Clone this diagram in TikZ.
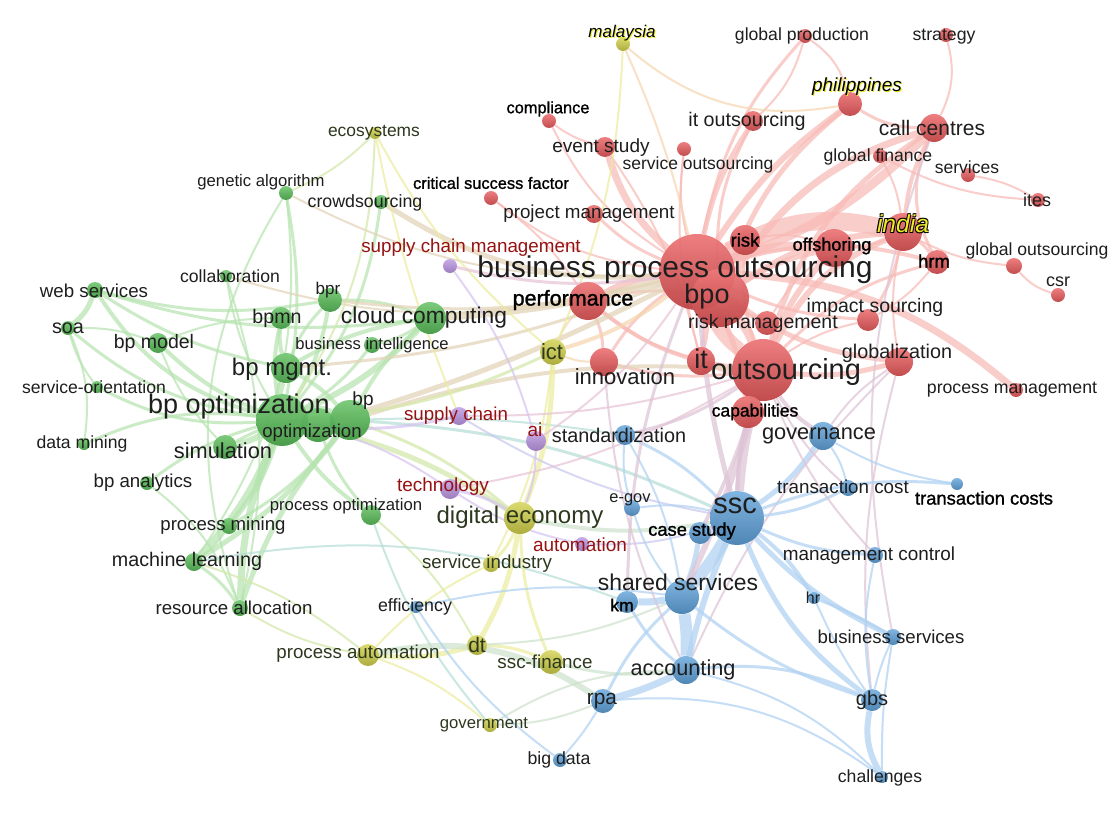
\documentclass[tikz,border=0pt]{standalone}
\usepackage{fontspec}
\setmainfont{Liberation Sans}
\newfontfamily\medfont[FakeBold=1.2]{Liberation Sans}
\pgfdeclarelayer{bg}
\pgfsetlayers{bg,main}
\definecolor{cR}{RGB}{232,82,84}
\definecolor{cG}{RGB}{80,186,80}
\definecolor{cB}{RGB}{86,156,216}
\definecolor{cY}{RGB}{206,206,64}
\definecolor{cP}{RGB}{184,144,226}
\definecolor{eR}{RGB}{248,186,182}
\definecolor{eG}{RGB}{182,228,176}
\definecolor{eB}{RGB}{176,210,242}
\definecolor{eY}{RGB}{236,236,160}
\definecolor{eP}{RGB}{214,196,240}
\definecolor{eRG}{RGB}{226,212,182}
\definecolor{eRB}{RGB}{222,196,214}
\definecolor{eGY}{RGB}{212,232,170}
\definecolor{eBY}{RGB}{206,226,204}
\definecolor{eRY}{RGB}{246,214,176}
\definecolor{eGB}{RGB}{182,222,214}
\definecolor{ePB}{RGB}{202,202,240}
\definecolor{eRP}{RGB}{232,196,214}
\definecolor{lab}{RGB}{30,30,30}
\definecolor{labP}{RGB}{150,18,18}
\definecolor{labY}{RGB}{44,56,30}
\definecolor{yl}{RGB}{235,235,40}
\newcommand\fs[1]{\fontsize{\fpeval{#1*0.75}}{\fpeval{#1*0.9}}\selectfont}
\newcommand\ed[5]{\draw[#1,line width=#2*0.75pt,draw opacity=0.72] (#3) to[bend left=#5] (#4);}
\begin{document}
\begin{tikzpicture}[x=0.75pt,y=-0.75pt,
  nd/.style={circle,inner sep=0pt,minimum size=#1*1.5pt,fill opacity=0.95},
  nR/.style={nd=#1,top color=cR!78!white,bottom color=cR!82!black},
  nG/.style={nd=#1,top color=cG!78!white,bottom color=cG!82!black},
  nB/.style={nd=#1,top color=cB!78!white,bottom color=cB!82!black},
  nY/.style={nd=#1,top color=cY!78!white,bottom color=cY!82!black},
  nP/.style={nd=#1,top color=cP!78!white,bottom color=cP!82!black},
  L/.style={inner sep=0pt,text=lab,font=\fs{#1}},
  LM/.style={inner sep=0pt,text=black,font=\medfont\fs{#1}},
  LP/.style={inner sep=0pt,text=labP,font=\fs{#1}},
  LY/.style={inner sep=0pt,text=labY,font=\fs{#1}},
  LI/.style={inner sep=0pt,font=\fs{#1}\itshape}]
\useasboundingbox (0,0) rectangle (1116,820);
\begin{pgfonlayer}{bg}
\fill[white] (0,0) rectangle (1116,820);
\end{pgfonlayer}
% ---------- red cluster
\node[nR=38] (bpoo) at (697,272) {};
\node[nR=29] (bpo) at (720,298) {};
\node[nR=31] (outs) at (763,370) {};
\node[nR=14] (itn) at (701,361) {};
\node[nR=19] (perf) at (588,301) {};
\node[nR=14] (innov) at (604,362) {};
\node[nR=12] (riskm) at (767,323) {};
\node[nR=15] (risk) at (745,240) {};
\node[nR=19] (offsh) at (834,248) {};
\node[nR=19] (india) at (903,232) {};
\node[nR=12] (hrm) at (937,262) {};
\node[nR=11] (impact) at (868,320) {};
\node[nR=14] (glob) at (899,362) {};
\node[nR=7] (procm) at (1016,390) {};
\node[nR=16] (capab) at (748,412) {};
\node[nR=8] (globout) at (1014,266) {};
\node[nR=7] (csr) at (1058,295) {};
\node[nR=7] (ites) at (1038,200) {};
\node[nR=7] (services) at (968,175) {};
\node[nR=7] (globfin) at (880,156) {};
\node[nR=14] (callc) at (934,128) {};
\node[nR=12] (phil) at (850,104) {};
\node[nR=7] (strat) at (946,35) {};
\node[nR=7] (globprod) at (805,36) {};
\node[nR=10] (itout) at (753,121) {};
\node[nR=10] (event) at (605,147) {};
\node[nR=7] (servout) at (684,149) {};
\node[nR=7] (compl) at (549,121) {};
\node[nR=7] (csf) at (491,198) {};
\node[nR=9] (projm) at (594,214) {};
% ---------- green cluster
\node[nG=17] (optim) at (318,425) {};
\node[nG=26] (bpopt) at (282,420) {};
\node[nG=20] (bp) at (350,420) {};
\node[nG=12] (simul) at (225,447) {};
\node[nG=15] (bpmgmt) at (286,368) {};
\node[nG=11] (bpmn) at (281,318) {};
\node[nG=12] (bpr) at (330,300) {};
\node[nG=16] (cloud) at (430,318) {};
\node[nG=8] (busint) at (372,345) {};
\node[nG=6] (collab) at (226,276) {};
\node[nG=7] (genalg) at (286,193) {};
\node[nG=7] (crowd) at (381,202) {};
\node[nG=8] (websvc) at (95,290) {};
\node[nG=7] (soa) at (68,328) {};
\node[nG=10] (bpmodel) at (158,343) {};
\node[nG=6] (svcor) at (97,387) {};
\node[nG=6] (datamin) at (84,444) {};
\node[nG=7] (bpanal) at (147,483) {};
\node[nG=8] (procmin) at (229,526) {};
\node[nG=9] (ml) at (194,562) {};
\node[nG=8] (resalloc) at (240,608) {};
\node[nG=10] (procopt) at (371,515) {};
% ---------- yellow cluster
\node[nY=6] (eco) at (375,133) {};
\node[nY=7] (malay) at (623,44) {};
\node[nY=13] (ict) at (553,352) {};
\node[nY=16] (digecon) at (520,518) {};
\node[nY=8] (svcind) at (491,564) {};
\node[nY=10] (dt) at (477,645) {};
\node[nY=11] (procaut) at (368,655) {};
\node[nY=12] (sscfin) at (551,662) {};
\node[nY=7] (gov) at (490,725) {};
% ---------- purple cluster
\node[nP=7] (scm) at (450,266) {};
\node[nP=9] (sc) at (459,416) {};
\node[nP=10] (ai) at (536,441) {};
\node[nP=10] (tech) at (450,489) {};
\node[nP=7] (autom) at (582,544) {};
% ---------- blue cluster
\node[nB=27] (ssc) at (737,518) {};
\node[nB=11] (casest) at (700,533) {};
\node[nB=17] (shsvc) at (682,597) {};
\node[nB=11] (km) at (627,602) {};
\node[nB=14] (acct) at (686,670) {};
\node[nB=12] (rpa) at (603,701) {};
\node[nB=7] (bigdata) at (560,760) {};
\node[nB=6] (effic) at (416,607) {};
\node[nB=10] (stand) at (625,435) {};
\node[nB=14] (govn) at (823,436) {};
\node[nB=8] (egov) at (632,508) {};
\node[nB=8] (tcost) at (848,488) {};
\node[nB=6] (tcosts) at (957,484) {};
\node[nB=8] (mctrl) at (875,555) {};
\node[nB=6] (hr) at (814,598) {};
\node[nB=8] (bsvc) at (893,637) {};
\node[nB=11] (gbs) at (872,700) {};
\node[nB=6] (chal) at (882,777) {};
% ---------- connectors
\begin{pgfonlayer}{bg}
% red
\ed{eR}{18}{bpoo}{india}{22}
\ed{eR}{12}{bpoo}{bpo}{10}
\ed{eR}{14}{bpoo}{outs}{-15}
\ed{eR}{9}{bpo}{outs}{10}
\ed{eR}{9}{bpoo}{offsh}{12}
\ed{eR}{9}{bpoo}{callc}{-12}
\ed{eR}{6}{bpoo}{phil}{10}
\ed{eR}{5}{bpoo}{itout}{10}
\ed{eR}{6}{bpoo}{risk}{10}
\ed{eR}{7}{bpoo}{perf}{-10}
\ed{eR}{7}{bpoo}{event}{15}
\ed{eR}{3}{bpoo}{projm}{10}
\ed{eR}{3}{bpoo}{globprod}{15}
\ed{eR}{4}{bpoo}{hrm}{15}
\ed{eR}{3}{bpoo}{impact}{-10}
\ed{eR}{5}{bpoo}{glob}{-15}
\ed{eR}{3}{bpoo}{innov}{-10}
\ed{eR}{6}{bpoo}{itn}{10}
\ed{eR}{4}{bpoo}{riskm}{-10}
\ed{eR}{5}{bpoo}{capab}{10}
\ed{eR}{2}{bpoo}{servout}{10}
\ed{eR}{2}{bpoo}{compl}{15}
\ed{eR}{2}{bpoo}{csf}{15}
\ed{eR}{7}{bpoo}{procm}{18}
\ed{eR}{6}{outs}{india}{20}
\ed{eR}{6}{outs}{offsh}{10}
\ed{eR}{5}{outs}{glob}{-10}
\ed{eR}{7}{outs}{capab}{10}
\ed{eR}{6}{outs}{itn}{10}
\ed{eR}{4}{outs}{perf}{15}
\ed{eR}{5}{outs}{callc}{20}
\ed{eR}{3}{outs}{innov}{10}
\ed{eR}{3}{outs}{hrm}{15}
\ed{eR}{3}{outs}{risk}{10}
\ed{eR}{2}{outs}{impact}{10}
\ed{eR}{6}{bpo}{india}{15}
\ed{eR}{7}{bpo}{callc}{20}
\ed{eR}{5}{bpo}{phil}{15}
\ed{eR}{5}{bpo}{offsh}{10}
\ed{eR}{3}{bpo}{itout}{15}
\ed{eR}{3}{bpo}{perf}{-10}
\ed{eR}{3}{india}{hrm}{10}
\ed{eR}{2}{india}{globout}{-10}
\ed{eR}{2}{globout}{csr}{-15}
\ed{eR}{4}{india}{callc}{10}
\ed{eR}{2}{services}{ites}{10}
\ed{eR}{2}{globfin}{ites}{-12}
\ed{eR}{2}{callc}{strat}{-20}
\ed{eR}{3}{phil}{callc}{-15}
\ed{eR}{2}{globfin}{india}{10}
\ed{eR}{2}{itout}{globprod}{-15}
\ed{eR}{2}{compl}{event}{-10}
\ed{eR}{2}{csf}{perf}{10}
\ed{eR}{2}{event}{itn}{10}
\ed{eR}{2}{glob}{india}{10}
\ed{eR}{2}{globprod}{phil}{20}
\ed{eR}{3}{perf}{innov}{10}
\ed{eR}{3}{perf}{itn}{-10}
\ed{eR}{2}{hrm}{impact}{10}
\ed{eR}{3}{offsh}{india}{-10}
\ed{eR}{2}{risk}{offsh}{15}
\ed{eR}{2}{riskm}{offsh}{10}
\ed{eR}{3}{india}{impact}{10}
\ed{eR}{3}{callc}{hrm}{-25}
\ed{eR}{2}{servout}{itn}{-10}
\ed{eRB}{2}{glob}{acct}{-10}
\ed{eRB}{2}{glob}{gbs}{-10}
\ed{eRB}{2}{callc}{bsvc}{-15}
\ed{eRY}{2}{malay}{bpoo}{5}
\ed{eRY}{2}{malay}{phil}{-25}
\ed{eRY}{4}{ict}{bpoo}{-10}
\ed{eRY}{2}{ict}{perf}{10}
\ed{eRY}{2}{ict}{innov}{-10}
% green
\ed{eG}{10}{bpopt}{optim}{0}
\ed{eG}{9}{optim}{bp}{0}
\ed{eG}{8}{bpopt}{bp}{20}
\ed{eG}{6}{bpopt}{simul}{10}
\ed{eG}{7}{bpopt}{bpmgmt}{10}
\ed{eG}{4}{bpopt}{bpmn}{10}
\ed{eG}{6}{bpopt}{cloud}{-10}
\ed{eG}{7}{bpopt}{ml}{10}
\ed{eG}{7}{bpopt}{resalloc}{-10}
\ed{eG}{5}{bpopt}{procmin}{10}
\ed{eG}{3}{bpopt}{bpanal}{-10}
\ed{eG}{3}{bpopt}{datamin}{-15}
\ed{eG}{4}{bpopt}{websvc}{20}
\ed{eG}{3}{bpopt}{soa}{15}
\ed{eG}{4}{bpopt}{bpmodel}{10}
\ed{eG}{3}{bpopt}{genalg}{-10}
\ed{eG}{2}{bpopt}{collab}{10}
\ed{eG}{3}{bpopt}{svcor}{15}
\ed{eG}{4}{bpopt}{procopt}{-10}
\ed{eG}{4}{bpopt}{bpr}{-10}
\ed{eG}{3}{bpopt}{busint}{-10}
\ed{eG}{3}{bpopt}{crowd}{-15}
\ed{eG}{5}{bp}{ml}{10}
\ed{eG}{5}{bp}{resalloc}{-10}
\ed{eG}{3}{bp}{procmin}{10}
\ed{eG}{4}{bp}{cloud}{10}
\ed{eG}{4}{bp}{bpmgmt}{-10}
\ed{eG}{3}{bp}{simul}{-15}
\ed{eG}{4}{bpmgmt}{bpmn}{10}
\ed{eG}{4}{bpmgmt}{cloud}{10}
\ed{eG}{3}{bpmgmt}{bpr}{10}
\ed{eG}{5}{websvc}{soa}{15}
\ed{eG}{3}{websvc}{cloud}{-12}
\ed{eG}{3}{websvc}{bpmgmt}{-10}
\ed{eG}{3}{websvc}{bpr}{-12}
\ed{eG}{2}{soa}{svcor}{-10}
\ed{eG}{2}{soa}{datamin}{15}
\ed{eG}{2}{soa}{bpmodel}{10}
\ed{eG}{2}{bpmodel}{bpmn}{10}
\ed{eG}{2}{bpmodel}{simul}{-10}
\ed{eG}{3}{cloud}{busint}{10}
\ed{eG}{3}{cloud}{bpr}{-10}
\ed{eG}{2}{genalg}{ml}{20}
\ed{eG}{2}{genalg}{resalloc}{-25}
\ed{eG}{2}{procmin}{ml}{10}
\ed{eG}{3}{ml}{resalloc}{10}
\ed{eG}{2}{collab}{resalloc}{15}
\ed{eG}{3}{procopt}{optim}{10}
\ed{eG}{2}{bpanal}{resalloc}{15}
\ed{eRG}{8}{cloud}{bpoo}{-5}
\ed{eRG}{5}{crowd}{bpoo}{-18}
\ed{eRG}{2}{genalg}{bpoo}{-15}
\ed{eRG}{3}{bpr}{bpoo}{-10}
\ed{eRG}{3}{bpmgmt}{bpoo}{-8}
\ed{eRG}{5}{optim}{bpoo}{-5}
\ed{eRG}{4}{bp}{outs}{10}
\ed{eRG}{2}{collab}{perf}{-12}
\ed{eGY}{5}{digecon}{bpopt}{-10}
\ed{eGY}{2}{procopt}{dt}{10}
\ed{eGY}{2}{resalloc}{procaut}{-10}
\ed{eGY}{2}{procaut}{ml}{-10}
\ed{eGY}{3}{bp}{digecon}{10}
\ed{eGY}{3}{ict}{bpopt}{10}
\ed{eGY}{2}{eco}{bpopt}{15}
\ed{eGY}{2}{eco}{genalg}{10}
\ed{eGB}{2}{ml}{km}{15}
\ed{eGB}{3}{bp}{ssc}{10}
\ed{eGB}{2}{bp}{stand}{5}
\ed{eGB}{2}{procopt}{gov}{-10}
% yellow
\ed{eY}{2}{eco}{sc}{-5}
\ed{eY}{2}{eco}{ict}{-10}
\ed{eY}{5}{digecon}{dt}{10}
\ed{eY}{3}{digecon}{sscfin}{-10}
\ed{eY}{5}{digecon}{ict}{-10}
\ed{eY}{3}{digecon}{svcind}{10}
\ed{eY}{5}{dt}{procaut}{10}
\ed{eY}{2}{procaut}{gov}{10}
\ed{eY}{3}{dt}{sscfin}{10}
\ed{eY}{2}{ict}{svcind}{10}
\ed{eY}{2}{svcind}{procaut}{-10}
\ed{eY}{2}{malay}{ict}{10}
\ed{eBY}{6}{procaut}{rpa}{22}
\ed{eBY}{3}{sscfin}{acct}{-10}
\ed{eBY}{2}{gov}{acct}{15}
\ed{eBY}{4}{digecon}{ssc}{-10}
\ed{eBY}{2}{gov}{rpa}{-10}
\ed{eBY}{2}{dt}{shsvc}{-10}
% purple
\ed{eRP}{3}{scm}{bpoo}{-10}
\ed{eP}{3}{sc}{bpopt}{10}
\ed{ePB}{2}{sc}{ssc}{-10}
\ed{eP}{2}{ai}{digecon}{10}
\ed{eP}{3}{tech}{digecon}{10}
\ed{eP}{2}{tech}{bpopt}{-10}
\ed{ePB}{2}{autom}{ssc}{-10}
\ed{eRP}{2}{ai}{bpoo}{-10}
\ed{eRP}{2}{tech}{outs}{-10}
\ed{eRP}{2}{sc}{outs}{-8}
\ed{eP}{2}{autom}{tech}{10}
\ed{eP}{2}{scm}{ai}{10}
% blue
\ed{eB}{12}{ssc}{shsvc}{5}
\ed{eB}{7}{ssc}{casest}{5}
\ed{eB}{12}{shsvc}{acct}{5}
\ed{eB}{7}{shsvc}{km}{5}
\ed{eB}{5}{ssc}{govn}{-10}
\ed{eB}{3}{ssc}{tcost}{-10}
\ed{eB}{3}{ssc}{tcosts}{12}
\ed{eB}{3}{ssc}{mctrl}{-10}
\ed{eB}{4}{ssc}{hr}{10}
\ed{eB}{5}{ssc}{bsvc}{-10}
\ed{eB}{5}{ssc}{gbs}{-15}
\ed{eB}{7}{acct}{rpa}{5}
\ed{eB}{3}{acct}{gbs}{15}
\ed{eB}{2}{rpa}{bigdata}{5}
\ed{eB}{3}{rpa}{shsvc}{10}
\ed{eB}{6}{gbs}{chal}{-20}
\ed{eB}{2}{bsvc}{gbs}{-5}
\ed{eB}{3}{hr}{bsvc}{5}
\ed{eB}{2}{bsvc}{chal}{-5}
\ed{eB}{3}{shsvc}{gbs}{-10}
\ed{eB}{3}{ssc}{stand}{-10}
\ed{eB}{2}{govn}{tcost}{10}
\ed{eB}{2}{govn}{tcosts}{-10}
\ed{eB}{2}{egov}{ssc}{10}
\ed{eB}{2}{egov}{shsvc}{-10}
\ed{eB}{2}{effic}{shsvc}{10}
\ed{eB}{2}{effic}{bigdata}{-10}
\ed{eB}{2}{rpa}{chal}{20}
\ed{eB}{2}{acct}{chal}{15}
\ed{eB}{5}{casest}{shsvc}{5}
\ed{eB}{3}{km}{acct}{-10}
\ed{eB}{6}{ssc}{acct}{-5}
\ed{eB}{2}{mctrl}{gbs}{-10}
\ed{eB}{2}{stand}{shsvc}{10}
\ed{eB}{2}{egov}{stand}{10}
\ed{eB}{2}{hr}{gbs}{-5}
\ed{eRB}{9}{ssc}{outs}{5}
\ed{eRB}{6}{shsvc}{outs}{-5}
\ed{eRB}{4}{casest}{outs}{-5}
\ed{eRB}{3}{km}{bpoo}{10}
\ed{eRB}{5}{ssc}{bpoo}{5}
\ed{eRB}{4}{govn}{outs}{10}
\ed{eRB}{3}{stand}{outs}{-10}
\ed{eRB}{2}{mctrl}{outs}{10}
\ed{eRB}{4}{ssc}{capab}{5}
\ed{eRB}{2}{govn}{glob}{10}
\ed{eRB}{2}{tcost}{outs}{10}
\ed{eRB}{2}{innov}{acct}{-10}
\end{pgfonlayer}
% ---------- labels
\node[L=30] (lbpoo) at (675,270) {business process outsourcing};
\node[L=27] (lbpo) at (707,297) {bpo};
\node[L=29] (louts) at (786,372) {outsourcing};
\node[L=27] (litn) at (701,359) {it};
\node[LM=21.5] (lperf) at (573,300) {performance};
\node[L=22] (linnov) at (625,377) {innovation};
\node[L=19.5] (lriskm) at (763,323) {risk management};
\node[LM=18.5] (lrisk) at (745,240) {risk};
\node[LM=18] (loffsh) at (832,246) {offshoring};
\node[LI=24.6,text=black] (lindiaA) at (902.2,223.2) {india};
\node[LI=24.6,text=black] (lindiaB) at (903.8,224.8) {india};
\node[LI=24.6,text=black] (lindiaC) at (902.2,224.8) {india};
\node[LI=24.6,text=black] (lindiaD) at (903.8,223.2) {india};
\node[LI=24.6,text=yl] (lindia) at (903,224) {india};
\node[LM=18.5] (lhrm) at (934,261) {hrm};
\node[L=19.5] (limpact) at (875,307) {impact sourcing};
\node[L=19.8] (lglob) at (897,353) {globalization};
\node[L=17.7] (lprocm) at (1012,390) {process management};
\node[LM=17.5] (lcapab) at (755,412) {capabilities};
\node[L=17.6] (lglobout) at (1037,251) {global outsourcing};
\node[L=18] (lcsr) at (1058,282) {csr};
\node[L=18] (lites) at (1037,200) {ites};
\node[L=17.5] (lservices) at (967,167) {services};
\node[L=17.6] (lglobfin) at (878,157) {global finance};
\node[L=21] (lcallc) at (932,128) {call centres};
\node[LI=19,text=yl] (lphilA) at (858,88) {philippines};
\node[LI=19,text=black] (lphil) at (857,87) {philippines};
\node[L=17.7] (lstrat) at (944,37) {strategy};
\node[L=17.6] (lglobprod) at (802,36) {global production};
\node[L=19.7] (litout) at (747,121) {it outsourcing};
\node[L=19] (levent) at (601,148) {event study};
\node[L=17.5] (lservout) at (698,165) {service outsourcing};
\node[LM=16.4] (lcompl) at (548,109) {compliance};
\node[LM=16.4] (lcsf) at (491,183) {critical success factor};
\node[L=18.8] (lprojm) at (589,214) {project management};
% green labels
\node[L=27] (lbpopt) at (239,407) {bp optimization};
\node[L=18.6] (loptim) at (312,433) {optimization};
\node[L=19] (lbp) at (363,401) {bp};
\node[L=21.8] (lsimul) at (223,451) {simulation};
\node[L=24] (lbpmgmt) at (282,369) {bp mgmt.};
\node[L=19.6] (lbpmn) at (277,318) {bpmn};
\node[L=17] (lbpr) at (328,290) {bpr};
\node[L=22.8] (lcloud) at (424,318) {cloud computing};
\node[L=16.6] (lbusint) at (372,345) {business intelligence};
\node[L=17.6] (lcollab) at (230,276) {collaboration};
\node[L=16.7] (lgenalg) at (261,182) {genetic algorithm};
\node[L=17.8] (lcrowd) at (365,203) {crowdsourcing};
\node[L=18.7] (lwebsvc) at (94,291) {web services};
\node[L=19.8] (lsoa) at (68,328) {soa};
\node[L=19.5] (lbpmodel) at (154,343) {bp model};
\node[L=17.6] (lsvcor) at (94,387) {service-orientation};
\node[L=17.6] (ldatamin) at (82,444) {data mining};
\node[L=18.7] (lbpanal) at (143,483) {bp analytics};
\node[L=18.6] (lprocmin) at (223,526) {process mining};
\node[L=19.7] (lml) at (187,561) {machine learning};
\node[L=18.7] (lresalloc) at (234,608) {resource allocation};
\node[L=16.7] (lprocopt) at (346,506) {process optimization};
% yellow labels
\node[LY=17.4] (leco) at (374,133) {ecosystems};
\node[LI=17,text=yl] (lmalayA) at (623,34) {malaysia};
\node[LI=17,text=black] (lmalay) at (622,33) {malaysia};
\node[LY=22] (lict) at (552,352) {ict};
\node[LY=24] (ldigecon) at (520,517) {digital economy};
\node[LY=18.7] (lsvcind) at (487,564) {service industry};
\node[LY=21] (ldt) at (477,645) {dt};
\node[LY=18.7] (lprocaut) at (358,654) {process automation};
\node[LY=18.8] (lsscfin) at (545,662) {ssc-finance};
\node[LY=16.7] (lgov) at (484,725) {government};
% purple labels
\node[LP=18.8] (lscm) at (471,248) {supply chain management};
\node[LP=18.7] (lsc) at (456,416) {supply chain};
\node[LP=19] (lai) at (535,430) {ai};
\node[LP=19] (ltech) at (443,487) {technology};
\node[LP=19] (lautom) at (580,545) {automation};
% blue labels
\node[L=29] (lssc) at (735,506) {ssc};
\node[LM=18.3] (lcasest) at (692,531) {case study};
\node[L=22.9] (lshsvc) at (678,582) {shared services};
\node[LM=17.6] (lkm) at (622,605) {km};
\node[L=21.7] (lacct) at (683,670) {accounting};
\node[L=20.8] (lrpa) at (602,701) {rpa};
\node[L=17.7] (lbigdata) at (559,760) {big data};
\node[L=17.8] (leffic) at (415,607) {efficiency};
\node[L=19.8] (lstand) at (619,435) {standardization};
\node[L=21.8] (lgovn) at (819,436) {governance};
\node[L=16.4] (legov) at (630,500) {e-gov};
\node[L=18.8] (ltcost) at (843,487) {transaction cost};
\node[LM=18.4] (ltcosts) at (984,498) {transaction costs};
\node[L=18.9] (lmctrl) at (869,556) {management control};
\node[L=16] (lhr) at (813,598) {hr};
\node[L=18.6] (lbsvc) at (891,637) {business services};
\node[L=20] (lgbs) at (872,700) {gbs};
\node[L=17.6] (lchal) at (880,778) {challenges};
\end{tikzpicture}
\end{document}
